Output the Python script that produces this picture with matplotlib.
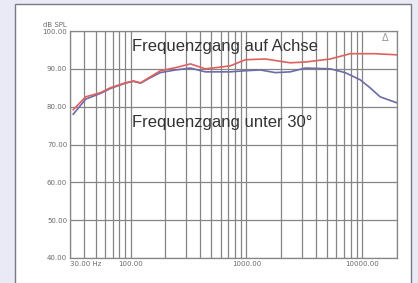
import matplotlib
matplotlib.use("Agg")
import matplotlib.pyplot as plt
from matplotlib.patches import Rectangle

freq_axis = [32, 41, 55, 67, 90, 106, 122, 143, 181, 244, 329, 443, 540, 728, 980, 1460, 2390, 3230, 5300, 7880, 12900, 20000]
spl_axis = [79.2, 82.6, 83.7, 85.0, 86.3, 86.8, 86.3, 87.6, 89.5, 90.3, 91.3, 90.0, 90.3, 90.8, 92.4, 92.6, 91.6, 91.8, 92.6, 94.0, 94.0, 93.7]

freq_30 = [32, 41, 55, 67, 90, 106, 122, 143, 181, 244, 329, 443, 728, 980, 1320, 1780, 2390, 3230, 5300, 7130, 9620, 11700, 14300, 20000]
spl_30 = [78.0, 82.0, 83.5, 84.8, 86.2, 86.7, 86.2, 87.4, 89.0, 89.7, 90.2, 89.2, 89.2, 89.5, 89.7, 89.0, 89.2, 90.2, 90.0, 89.0, 87.1, 85.0, 82.6, 81.0]

y_ticks = [40, 50, 60, 70, 80, 90, 100]
y_labels = ["40.00", "50.00", "60.00", "70.00", "80.00", "90.00", "100.00"]
x_ticks = [30, 100, 1000, 10000]
x_labels = ["30.00 Hz", "100.00", "1000.00", "10000.00"]

label_axis = "Frequenzgang auf Achse"
label_30 = "Frequenzgang unter 30°"

W, H = 418, 283
fig = plt.figure(figsize=(W / 100, H / 100), dpi=100)
fig.patch.set_facecolor("#eaeaf6")
panel = Rectangle((15 / W, -0.05), (411 - 15) / W, 1.05 - 4 / H,
                  transform=fig.transFigure, facecolor="white",
                  edgecolor="#7a7a86", linewidth=1.0, zorder=-5)
fig.patches.append(panel)

ax = fig.add_axes([70 / W, 1 - 258 / H, (397 - 70) / W, (258 - 31) / H])
ax.set_zorder(2)
ax.set_facecolor("white")
ax.set_xscale("log")
ax.set_xlim(30, 20000)
ax.set_ylim(40, 100)

grid_c = "#858585"
vlines = []
for dec in [10, 100, 1000, 10000]:
    for m in range(1, 10):
        v = dec * m
        if 30 <= v <= 20000:
            vlines.append(v)
for v in vlines:
    ax.axvline(v, color=grid_c, lw=0.9, zorder=1)
for t in y_ticks:
    ax.axhline(t, color=grid_c, lw=0.9, zorder=1)

ax.plot(freq_30, spl_30, color="#6b6ba8", lw=1.2, zorder=3)
ax.plot(freq_axis, spl_axis, color="#e06060", lw=1.2, zorder=4)

for s in ax.spines.values():
    s.set_color(grid_c)
    s.set_linewidth(0.9)

ax.set_yticks(y_ticks)
ax.set_yticklabels(y_labels)
ax.set_xticks(x_ticks)
ax.set_xticklabels(x_labels)
ax.minorticks_off()
ax.tick_params(length=0, labelsize=5, labelcolor="#6a6a6a", pad=2)
ax.get_xticklabels()[0].set_horizontalalignment("left")

ax.text(-0.01, 1.015, "dB SPL", transform=ax.transAxes, ha="right", va="bottom",
        fontsize=5, color="#6a6a6a")

ax.text(0.19, 0.93, label_axis, transform=ax.transAxes, ha="left", va="center",
        fontsize=12, color="#333333", family="Liberation Sans", zorder=5)
ax.text(0.19, 0.595, label_30, transform=ax.transAxes, ha="left", va="center",
        fontsize=12, color="#333333", family="Liberation Sans", zorder=5)
ax.text(0.965, 0.97, "Δ", transform=ax.transAxes, ha="center", va="center",
        fontsize=7, color="#999999", zorder=5)

fig.savefig("out.png", dpi=100, facecolor=fig.get_facecolor())
